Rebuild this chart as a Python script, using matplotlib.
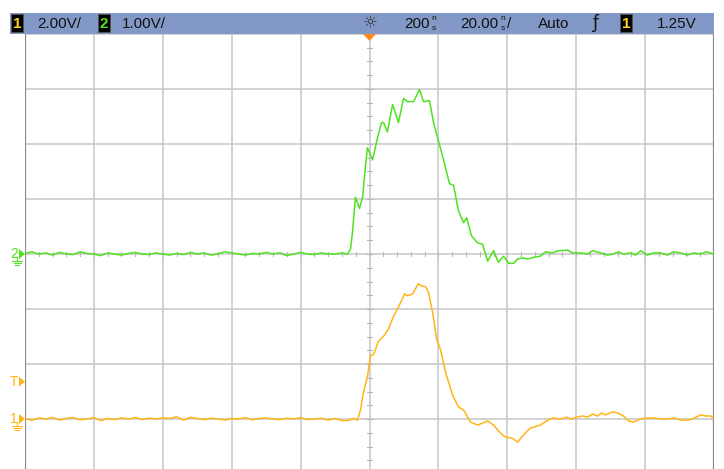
import matplotlib
matplotlib.use("Agg")
import matplotlib.pyplot as plt
from matplotlib.patches import Rectangle, Polygon
import numpy as np

# ---------------- data (time in ns relative to screen centre, volts) -------------
ch2_volts_per_div = 1.0
ch1_volts_per_div = 2.0
ch1_offset_div = -3.0
ch2_offset_div = 0.0
trigger_level_v = 1.25

# Channel 2 (green)
ch2_t = [-100, -98, -96, -94, -92, -90, -88, -86, -84, -82, -80, -78, -76, -74, -72,
         -70, -68, -66, -64, -62, -60, -58, -56, -54, -52, -50, -48, -46, -44, -42,
         -40, -38, -36, -34, -32, -30, -28, -26, -24, -22, -20, -18, -16, -14, -12,
         -10, -8, -6.4,
         -5.5, -4.9, -4.1, -2.9, -2.0, -1.2, -0.6, 0.9, 2.3, 3.5, 4.1, 5.2, 6.7, 8.4,
         9.9, 11.0, 12.8, 14.5, 15.7, 17.4, 18.6, 19.7, 21.5, 23.2, 24.4, 25.8, 27.3,
         28.2, 29.6, 31.4, 32.8, 34.3, 36.0, 37.4, 38.9, 40.4, 41.8, 43.0, 44.4, 45.9,
         47.6, 49.6, 51.1, 53.1, 54.9, 57.5, 58.9, 61.3, 63.3, 64.7, 67.1, 69.1, 70.8,
         72.3, 73.7, 75.8, 77.2, 78.7, 80.7, 82.4, 84.5, 86.5, 88.3, 90.3, 92.3, 94.1,
         96.1, 97.8, 99.9]
ch2_v = [0.01, 0.04, 0.0, 0.02, -0.02, 0.03, 0.0, -0.01, 0.04, 0.01, 0.0, -0.03, 0.02,
         0.0, -0.02, 0.01, 0.03, 0.0, -0.01, 0.02, 0.0, -0.02, 0.01, -0.01, 0.03, 0.0,
         0.02, -0.02, 0.0, 0.04, 0.02, 0.0, -0.02, 0.01, 0.0, 0.03, 0.0, 0.02, -0.03,
         0.0, 0.03, 0.0, -0.01, 0.02, 0.0, 0.0, 0.02, 0.0,
         0.09, 0.42, 1.03, 0.83, 1.03, 1.58, 1.93, 1.71, 2.11, 2.39, 2.39, 2.22, 2.72,
         2.39, 2.83, 2.77, 2.77, 2.99, 2.77, 2.79, 2.39, 2.13, 1.71, 1.28, 1.25, 0.79,
         0.57, 0.66, 0.33, 0.20, 0.18, -0.13, 0.06, -0.15, -0.04, -0.17, -0.17, -0.09,
         -0.07, -0.09, -0.06, -0.04, 0.04, 0.02, 0.06, 0.07, 0.02, 0.02, 0.0, 0.06, 0.02,
         -0.02, 0.0, 0.04, 0.0, 0.02, -0.02, 0.06, -0.02, 0.02, 0.02, -0.02, 0.04, 0.02,
         -0.02, 0.02, 0.0, 0.04, 0.0]

# Channel 1 (yellow)
ch1_t = [-100, -98, -96, -94, -92, -90, -88, -86, -84, -82, -80, -78, -76, -74, -72,
         -70, -68, -66, -64, -62, -60, -58, -56, -54, -52, -50, -48, -46, -44, -42,
         -40, -38, -36, -34, -32, -30, -28, -26, -24, -22, -20, -18, -16, -14, -12,
         -10, -8, -6, -4.5, -3.5,
         -2.6, -2.0, -1.2, -0.6, 0.3, 1.2, 2.6, 4.1, 5.5, 7.0, 8.4, 10.2, 11.0, 12.5,
         14.2, 15.1, 16.3, 17.1, 18.3, 19.5, 20.6, 22.1, 24.1, 25.8, 27.3, 29.3, 31.4,
         32.8, 34.3, 36.0, 38.0, 39.5, 41.5, 43.0, 44.4, 46.7, 49.6, 51.4, 53.1, 55.4,
         57.2, 58.4, 60.4, 61.8, 63.3, 64.7, 66.2, 67.4, 68.5, 70.5, 72.0, 73.7, 75.2,
         76.6, 78.7, 80.7, 82.4, 84.5, 86.5, 88.5, 90.3, 92.6, 94.4, 96.1, 97.5, 99.0,
         99.9]
ch1_v = [0.02, -0.05, 0.04, 0.0, 0.06, -0.04, 0.03, 0.05, -0.03, 0.0, 0.05, -0.06, 0.02,
         -0.02, 0.04, 0.0, 0.05, -0.02, 0.03, 0.0, 0.04, 0.02, 0.08, -0.04, 0.06, 0.02,
         -0.02, 0.03, 0.0, -0.04, 0.02, 0.0, 0.05, -0.03, 0.02, 0.04, 0.0, -0.02, 0.03,
         0.0, 0.05, -0.02, 0.0, 0.03, -0.04, 0.02, -0.06, -0.05, 0.02, -0.04,
         0.33, 0.81, 1.25, 1.54, 2.31, 2.35, 2.83, 3.01, 3.27, 3.74, 4.07, 4.55, 4.48,
         4.55, 4.92, 4.84, 4.81, 4.62, 3.89, 2.90, 2.53, 1.69, 0.88, 0.44, 0.33, -0.11,
         -0.22, -0.15, -0.07, -0.22, -0.51, -0.66, -0.70, -0.84, -0.62, -0.33, -0.22,
         -0.07, 0.04, 0.0, 0.07, 0.0, 0.07, 0.11, 0.07, 0.18, 0.11, 0.22, 0.15, 0.26,
         0.22, 0.11, -0.07, -0.11, 0.0, 0.04, 0.04, 0.0, 0.0, 0.04, -0.04, -0.04, 0.04,
         0.15, 0.11, 0.11, 0.04]

header_left = ["2.00V/", "1.00V/"]
header_right = ["200", "20.00", "Auto", "1.25V"]

# ---------------- figure layout ----------------
W, H = 724, 469
fig = plt.figure(figsize=(W / 100, H / 100), dpi=100)
fig.patch.set_facecolor("white")

def fx(px):
    return px / W

def fy(py):
    return (H - py) / H

gx0, gx1, gy0, gy1 = 25, 714, 34, 474
ax = fig.add_axes([fx(gx0), fy(gy1), (gx1 - gx0) / W, (gy1 - gy0) / H])
ax.set_xlim(-100, 100)
ax.set_ylim(-4, 4)
ax.set_facecolor("white")
for s in ax.spines.values():
    s.set_visible(False)
ax.set_xticks([])
ax.set_yticks([])

grid_c = "#c6c6c6"
for xd in range(-5, 6):
    ax.axvline(xd * 20, color=grid_c, lw=1.1, zorder=1)
for yd in range(-4, 5):
    ax.axhline(yd, color=grid_c, lw=1.1, zorder=1)
# frame edges
ax.axvline(-100, color="#8a8a8a", lw=1.6, zorder=2)
ax.axvline(100, color="#8a8a8a", lw=1.6, zorder=2)

# minor ticks on centre lines
for k in range(-25, 26):
    xv = k * 4
    ax.plot([xv, xv], [-0.04, 0.04], color="#b8b8b8", lw=0.8, zorder=1)
for k in range(-16, 17):
    yv = k * 0.25
    ax.plot([-0.6, 0.6], [yv, yv], color="#b8b8b8", lw=0.8, zorder=1)

green = "#4ee21f"
yellow = "#ffb515"
ax.plot(ch2_t, np.array(ch2_v) / ch2_volts_per_div + ch2_offset_div, color=green, lw=1.1, zorder=4)
ax.plot(ch1_t, np.array(ch1_v) / ch1_volts_per_div + ch1_offset_div, color=yellow, lw=1.1, zorder=3)

# ---------------- header bar ----------------
bar = Rectangle((fx(10), fy(34)), fx(714) - fx(10), fy(13) - fy(34),
                transform=fig.transFigure, facecolor="#8299c8", edgecolor="none", zorder=5)
fig.patches.append(bar)

ty = fy(23.5)
font = dict(family="Liberation Sans", fontsize=11, color="#111111", va="center")

def badge(xc, label, col):
    r = Rectangle((fx(xc - 6), fy(32)), fx(12), fy(14) - fy(32), transform=fig.transFigure,
                  facecolor="black", edgecolor="#555555", lw=0.6, zorder=6)
    fig.patches.append(r)
    fig.text(fx(xc), fy(23.5), label, color=col, fontsize=11, fontweight="bold",
             family="Liberation Sans", ha="center", va="center", zorder=7)

def stacked_unit(xc):
    fig.text(fx(xc), fy(19.0), "n", fontsize=6, color="#111111", family="Liberation Sans",
             ha="center", va="center", zorder=7)
    fig.text(fx(xc), fy(28.0), "s", fontsize=6, color="#111111", family="Liberation Sans",
             ha="center", va="center", zorder=7)

badge(17, "1", "#ffd21f")
fig.text(fx(37), ty, header_left[0], ha="left", zorder=7, **font)
badge(104, "2", "#4ee21f")
fig.text(fx(122), ty, header_left[1], ha="left", zorder=7, **font)

fig.text(fx(370), fy(23.5), "\u263c", fontsize=12, color="#333333", family="DejaVu Sans",
         ha="center", va="center", zorder=7)
fig.text(fx(404), ty, header_right[0], ha="left", zorder=7, **font)
stacked_unit(434)
fig.text(fx(460), ty, header_right[1], ha="left", zorder=7, **font)
stacked_unit(503)
fig.text(fx(507), ty, "/", ha="left", zorder=7, **font)
fig.text(fx(538), ty, header_right[2], ha="left", zorder=7, **font)
fig.text(fx(595), fy(23.5), "\u0192", fontsize=12, color="#111111", family="DejaVu Sans",
         ha="center", va="center", zorder=7)
badge(626, "1", "#ffd21f")
fig.text(fx(657), ty, header_right[3], ha="left", zorder=7, **font)

# delay marker (orange triangle under bar)
tri = Polygon([[fx(363), fy(34)], [fx(376), fy(34)], [fx(369.5), fy(41)]], closed=True,
              transform=fig.transFigure, facecolor="#ff8c1a", edgecolor="none", zorder=6)
fig.patches.append(tri)

# ---------------- left channel markers ----------------
def chan_marker(py, label, col, ground=True):
    fig.text(fx(14), fy(py), label, color=col, fontsize=10, family="Liberation Sans",
             ha="center", va="center", zorder=7)
    t = Polygon([[fx(19), fy(py - 5)], [fx(19), fy(py + 5)], [fx(25), fy(py)]], closed=True,
                transform=fig.transFigure, facecolor=col, edgecolor="none", zorder=7)
    fig.patches.append(t)
    if ground:
        for i, half in enumerate([5, 3.5, 2]):
            yy = py + 7 + i * 2
            fig.add_artist(plt.Line2D([fx(17 - half), fx(17 + half)], [fy(yy), fy(yy)],
                                      transform=fig.transFigure, color=col, lw=0.8, zorder=7))
        fig.add_artist(plt.Line2D([fx(17), fx(17)], [fy(py + 3), fy(py + 7)],
                                  transform=fig.transFigure, color=col, lw=0.8, zorder=7))

def y_to_px(ydiv):
    return gy0 + (4 - ydiv) * (gy1 - gy0) / 8

chan_marker(y_to_px(ch2_offset_div), "2", green)
chan_marker(y_to_px(ch1_offset_div), "1", yellow)
chan_marker(y_to_px(trigger_level_v / ch1_volts_per_div + ch1_offset_div) - 3, "T", yellow, ground=False)

fig.savefig("out.png", dpi=100)
